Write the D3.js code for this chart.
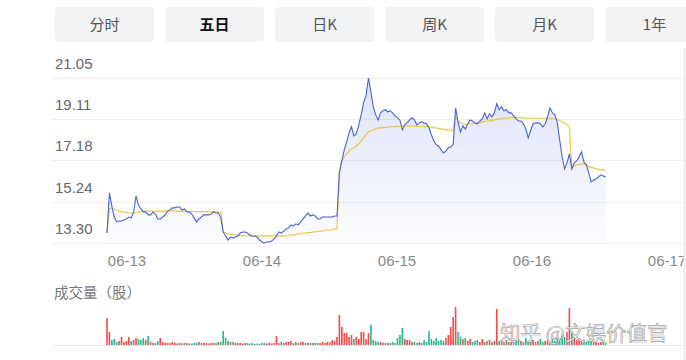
<!DOCTYPE html>
<html><head><meta charset="utf-8">
<script src="https://cdn.jsdelivr.net/npm/d3@7/dist/d3.min.js"></script>
<style>html,body{margin:0;padding:0;background:#fff;overflow:hidden}</style>
</head><body><svg id="c" width="686" height="360"></svg>
<script>
const tabs = ["分时","五日","日K","周K","月K","1年"];
const activeTab = "五日";
const dates = ["06-13","06-14","06-15","06-16","06-17"];
const yTicks = [13.30, 15.24, 17.18, 19.11, 21.05];
const volTitle = "成交量（股）";
const watermark = "知乎 @文娱价值官";

// price, sampled every 5 minutes (48 per day)
const price0 = [13.77,15.65,15.03,14.52,14.29,14.33,14.33,14.38,14.43,14.52,14.48,14.76,15.51,15.08,14.90,14.76,14.76,14.62,14.62,14.76,14.66,14.43,14.43,14.52,14.62,14.80,14.85,14.95,14.95,14.99,14.99,14.85,14.90,14.76,14.76,14.66,14.48,14.29,14.43,14.52,14.62,14.62,14.62,14.66,14.76,14.71,14.71,14.48];
const price1 = [13.82,13.63,13.44,13.58,13.54,13.58,13.63,13.77,13.82,13.82,13.77,13.68,13.63,13.63,13.58,13.44,13.35,13.30,13.35,13.35,13.39,13.49,13.63,13.82,13.77,13.86,13.96,14.01,14.15,14.10,14.20,14.15,14.29,14.43,14.57,14.71,14.57,14.62,14.57,14.43,14.43,14.52,14.52,14.52,14.52,14.52,14.57,14.57];
const price2 = [16.59,17.16,17.67,18.05,18.47,18.76,18.33,18.43,18.85,19.32,19.88,20.21,21.05,20.40,19.70,19.32,19.08,19.41,19.51,19.56,19.46,19.51,19.41,19.27,19.18,19.08,18.61,18.85,18.94,19.08,19.18,19.08,18.85,18.94,18.99,18.94,18.90,18.71,18.38,18.10,17.91,17.86,17.67,17.53,17.62,17.77,17.81,17.91];
const price3 = [19.65,18.99,18.52,18.80,18.66,18.90,19.08,19.03,18.94,18.90,19.03,19.13,19.41,19.13,19.37,19.23,19.41,19.84,19.56,19.70,19.51,19.56,19.41,19.41,19.27,19.13,19.03,19.03,18.90,18.66,18.24,18.57,18.90,18.94,18.94,18.90,18.76,18.90,19.23,19.65,19.41,19.32,18.94,18.14,17.34,16.78,17.06,17.48];
const price4 = [16.78,17.06,17.16,17.34,17.58,17.11,16.97,16.59,16.17,16.26,16.31,16.40,16.50,16.45,16.40];

// average price line
const avg0 = [13.77,14.90,14.95,14.90,14.85,14.80,14.76,14.76,14.73,14.71,14.71,14.71,14.73,14.76,14.78,14.80,14.80,14.81,14.81,14.80,14.80,14.79,14.79,14.80,14.80,14.81,14.81,14.81,14.81,14.80,14.80,14.79,14.79,14.78,14.78,14.78,14.78,14.77,14.77,14.77,14.77,14.77,14.76,14.76,14.76,14.76,14.76,14.76];
const avg1 = [13.82,13.77,13.72,13.72,13.68,13.68,13.65,13.65,13.65,13.64,13.63,13.63,13.63,13.63,13.63,13.63,13.63,13.63,13.63,13.63,13.63,13.63,13.63,13.63,13.63,13.63,13.64,13.65,13.68,13.68,13.70,13.72,13.75,13.77,13.77,13.79,13.79,13.82,13.82,13.84,13.86,13.86,13.89,13.91,13.91,13.93,13.96,13.96];
const avg2 = [16.73,17.16,17.34,17.49,17.63,17.72,17.77,17.86,17.96,18.10,18.24,18.38,18.52,18.57,18.61,18.66,18.71,18.71,18.72,18.73,18.74,18.76,18.76,18.77,18.78,18.78,18.79,18.80,18.80,18.80,18.80,18.79,18.79,18.78,18.78,18.77,18.76,18.76,18.74,18.71,18.71,18.68,18.66,18.64,18.61,18.61,18.59,18.57];
const avg3 = [19.23,19.04,18.94,18.90,18.87,18.88,18.90,18.90,18.92,18.94,18.94,18.99,19.01,19.03,19.04,19.06,19.08,19.11,19.13,19.15,19.16,19.18,19.18,19.20,19.20,19.20,19.20,19.19,19.18,19.17,19.17,19.16,19.16,19.16,19.16,19.16,19.16,19.16,19.16,19.16,19.15,19.13,19.11,19.04,18.99,18.94,18.87,18.76];
const avg4 = [16.83,16.92,16.97,16.99,17.02,17.02,16.97,16.90,16.85,16.83,16.78,16.76,16.73,16.73,16.73];

// volume (10k shares)
const vol0 = [27,13,5,6,3,4,8,3,4,8,4,5,7,6,5,7,5,9,3,2,2,4,7,3,2,2,2,3,2,1.5,2,1.5,2,2,1.5,1.5,2,2,3,2,2,2,1.5,2,2,2,3,3];
const vol1 = [14,7,4,3,3,2,2,2,1.5,2,2,1.5,2,1,1.5,1,2,2,1.5,2,1.5,2,9,2,3,2,3,3,4,2,3,2,3,3,2,2,2,2,2,2,2,3,2,3,3,5,4,8];
const vol2 = [30,18,12,12,8,10,6,8,6,13,13,6,12,20,5,4,3,3,2,2,2,2,3,2,7,10,17,6,5,5,3,3,2,3,2,5,3,14,6,4,7,4,5,4,7,10,18,28];
const vol3 = [38,13,8,6,7,4,6,3,4,5,3,6,3,4,5,3,4,36,4,5,3,5,3,3,3,4,6,4,3,7,4,3,5,3,4,6,3,4,5,3,7,4,8,5,10,8,13,37];
const vol4 = [12,8,5,7,4,5,3,4,4,3,3,2,3,3,2];

const perDay = 48;
const prices = [price0,price1,price2,price3,price4];
const avgs = [avg0,avg1,avg2,avg3,avg4];
const vols = [vol0,vol1,vol2,vol3,vol4];
const pts = [];
prices.forEach((arr,d)=>arr.forEach((p,k)=>pts.push({i:d*perDay+k,p:p,a:avgs[d][k],v:vols[d][k]})));
pts.forEach((o,j)=>{o.up = j===0 ? true : o.p >= pts[j-1].p;});

const svg = d3.select("#c");
svg.append("rect").attr("width",686).attr("height",360).attr("fill","#fff");

// tabs
const tabW = 99, tabStep = 110;
const tg = svg.append("g");
tabs.forEach((t,i)=>{
  tg.append("rect").attr("x",55+i*tabStep).attr("y",7).attr("width",tabW).attr("height",35).attr("rx",4).attr("fill","#f2f3f5");
  tg.append("text").attr("x",55+i*tabStep+tabW/2).attr("y",30).attr("text-anchor","middle")
    .attr("font-family","'Noto Sans CJK SC','Noto Sans',sans-serif").attr("font-size",15)
    .attr("font-weight",t===activeTab?"bold":"normal").attr("fill",t===activeTab?"#111":"#555").text(t);
});

const x = d3.scaleLinear().domain([0, perDay*5]).range([107, 688]);
const y = d3.scaleLinear().domain([yTicks[0], yTicks[yTicks.length-1]]).range([243, 78]);
const xl = d3.scalePoint().domain(dates).range([127, 667]);
const yv = d3.scaleLinear().domain([0, 38]).range([345, 307]);

// grid
svg.append("g").selectAll("line").data(yTicks).join("line")
  .attr("x1",53).attr("x2",683).attr("y1",d=>Math.round(y(d))+0.5).attr("y2",d=>Math.round(y(d))+0.5)
  .attr("stroke","#eeeeee").attr("stroke-width",1);
svg.append("g").selectAll("text").data(yTicks).join("text")
  .attr("x",55).attr("y",d=>y(d)-9).attr("font-family","'Liberation Sans',Arial,sans-serif")
  .attr("font-size",15).attr("fill","#666").text(d=>d3.format(".2f")(d));

// gradient
const defs = svg.append("defs");
const gr = defs.append("linearGradient").attr("id","ag").attr("x1",0).attr("y1",0).attr("x2",0).attr("y2",1);
gr.append("stop").attr("offset","0%").attr("stop-color","#5a74e0").attr("stop-opacity",0.2);
gr.append("stop").attr("offset","100%").attr("stop-color","#5a74e0").attr("stop-opacity",0.02);

svg.append("path").datum(pts)
  .attr("d", d3.area().x(d=>x(d.i)).y0(y(yTicks[0])).y1(d=>y(d.p)))
  .attr("fill","url(#ag)");
svg.append("path").datum(pts)
  .attr("d", d3.line().x(d=>x(d.i)).y(d=>y(d.a)))
  .attr("fill","none").attr("stroke","#f2c447").attr("stroke-width",1.2);
svg.append("path").datum(pts)
  .attr("d", d3.line().x(d=>x(d.i)).y(d=>y(d.p)))
  .attr("fill","none").attr("stroke","#4763d6").attr("stroke-width",1.1);

// x labels
svg.append("g").selectAll("text").data(dates).join("text")
  .attr("x",d=>xl(d)).attr("y",266).attr("text-anchor","middle")
  .attr("font-family","'Liberation Sans',Arial,sans-serif").attr("font-size",15).attr("fill","#888").text(d=>d);

// volume
svg.append("text").attr("x",54).attr("y",298).attr("font-family","'Noto Sans CJK SC',sans-serif")
  .attr("font-size",14.5).attr("fill","#777").text(volTitle);
svg.append("g").selectAll("rect").data(pts).join("rect")
  .attr("x",d=>x(d.i)-0.8).attr("width",1.6)
  .attr("y",d=>yv(d.v)).attr("height",d=>yv(0)-yv(d.v))
  .attr("fill",d=>d.up?"#f34a4a":"#22b890");
svg.append("line").attr("x1",53).attr("x2",683).attr("y1",345.5).attr("y2",345.5).attr("stroke","#e6e6e6");

// right edge
svg.append("line").attr("x1",684.5).attr("x2",684.5).attr("y1",48).attr("y2",360).attr("stroke","#ececec").attr("stroke-width",2);

// watermark
svg.append("text").attr("x",500).attr("y",341).attr("font-family","'Noto Sans CJK SC',sans-serif")
  .attr("font-size",20.5).attr("fill","#ffffff").attr("fill-opacity",0.75)
  .attr("stroke","#8a8a8a").attr("stroke-width",0.7).attr("stroke-opacity",0.8).text(watermark);
</script></body></html>
